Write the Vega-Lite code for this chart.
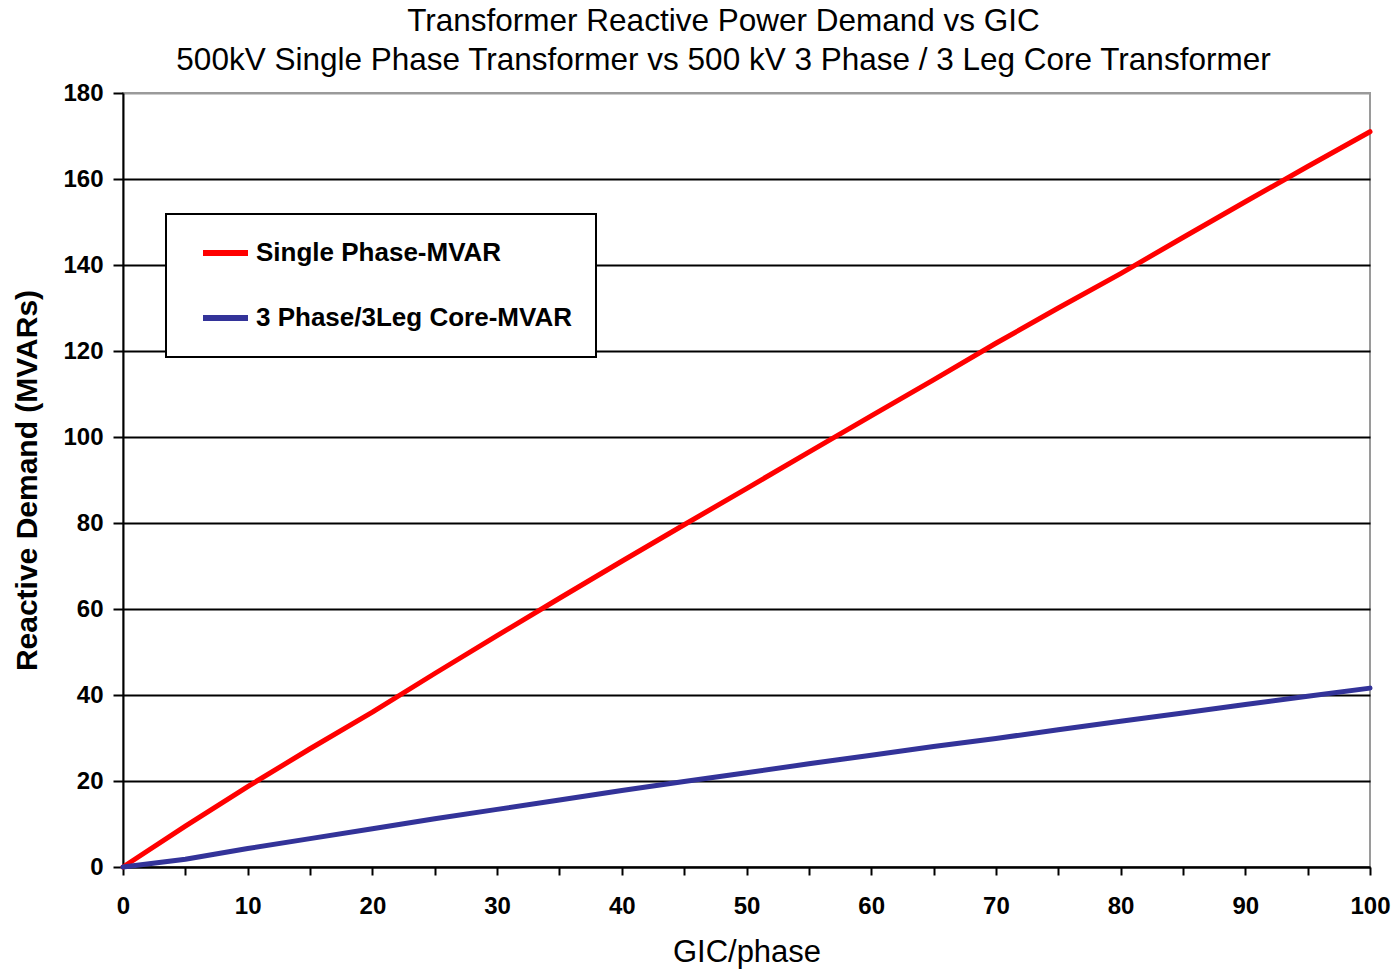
{
  "$schema": "https://vega.github.io/schema/vega-lite/v6.json",
  "autosize": "none",
  "width": 1247,
  "height": 774,
  "padding": {"left": 123, "top": 93, "right": 27, "bottom": 105},
  "background": "white",
  "title": {
    "text": ["Transformer Reactive Power Demand vs GIC", "500kV Single Phase Transformer vs 500 kV 3 Phase / 3 Leg Core Transformer"],
    "font": "Liberation Sans",
    "fontSize": 31.5,
    "fontWeight": "normal",
    "color": "#000000",
    "lineHeight": 39,
    "anchor": "middle",
    "dx": -23,
    "offset": 5
  },
  "config": {
    "font": "Liberation Sans",
    "view": {"stroke": "#9a9a9a", "strokeWidth": 2},
    "legend": {"strokeWidth": 2},
    "axis": {
      "domainColor": "#000000",
      "domainWidth": 2,
      "tickColor": "#000000",
      "tickWidth": 2,
      "labelFont": "Liberation Sans",
      "labelFontWeight": "bold",
      "labelFontSize": 24,
      "labelColor": "#000000",
      "titleFont": "Liberation Sans",
      "titleColor": "#000000"
    }
  },
  "data": {
    "values": [
      {"gic": 0, "mvar": 0, "series": "Single Phase-MVAR"},
      {"gic": 5, "mvar": 9.5, "series": "Single Phase-MVAR"},
      {"gic": 10, "mvar": 18.7, "series": "Single Phase-MVAR"},
      {"gic": 15, "mvar": 27.5, "series": "Single Phase-MVAR"},
      {"gic": 20, "mvar": 36.0, "series": "Single Phase-MVAR"},
      {"gic": 25, "mvar": 45.0, "series": "Single Phase-MVAR"},
      {"gic": 30, "mvar": 53.8, "series": "Single Phase-MVAR"},
      {"gic": 35, "mvar": 62.5, "series": "Single Phase-MVAR"},
      {"gic": 40, "mvar": 71.1, "series": "Single Phase-MVAR"},
      {"gic": 45, "mvar": 79.6, "series": "Single Phase-MVAR"},
      {"gic": 50, "mvar": 88.0, "series": "Single Phase-MVAR"},
      {"gic": 55, "mvar": 96.5, "series": "Single Phase-MVAR"},
      {"gic": 60, "mvar": 104.9, "series": "Single Phase-MVAR"},
      {"gic": 65, "mvar": 113.3, "series": "Single Phase-MVAR"},
      {"gic": 70, "mvar": 121.8, "series": "Single Phase-MVAR"},
      {"gic": 75, "mvar": 130.0, "series": "Single Phase-MVAR"},
      {"gic": 80, "mvar": 138.0, "series": "Single Phase-MVAR"},
      {"gic": 85, "mvar": 146.4, "series": "Single Phase-MVAR"},
      {"gic": 90, "mvar": 154.7, "series": "Single Phase-MVAR"},
      {"gic": 95, "mvar": 162.9, "series": "Single Phase-MVAR"},
      {"gic": 100, "mvar": 171.0, "series": "Single Phase-MVAR"},
      {"gic": 0, "mvar": 0, "series": "3 Phase/3Leg Core-MVAR"},
      {"gic": 5, "mvar": 1.8, "series": "3 Phase/3Leg Core-MVAR"},
      {"gic": 10, "mvar": 4.3, "series": "3 Phase/3Leg Core-MVAR"},
      {"gic": 15, "mvar": 6.6, "series": "3 Phase/3Leg Core-MVAR"},
      {"gic": 20, "mvar": 8.9, "series": "3 Phase/3Leg Core-MVAR"},
      {"gic": 25, "mvar": 11.2, "series": "3 Phase/3Leg Core-MVAR"},
      {"gic": 30, "mvar": 13.4, "series": "3 Phase/3Leg Core-MVAR"},
      {"gic": 35, "mvar": 15.6, "series": "3 Phase/3Leg Core-MVAR"},
      {"gic": 40, "mvar": 17.8, "series": "3 Phase/3Leg Core-MVAR"},
      {"gic": 45, "mvar": 19.9, "series": "3 Phase/3Leg Core-MVAR"},
      {"gic": 50, "mvar": 21.9, "series": "3 Phase/3Leg Core-MVAR"},
      {"gic": 55, "mvar": 24.0, "series": "3 Phase/3Leg Core-MVAR"},
      {"gic": 60, "mvar": 26.0, "series": "3 Phase/3Leg Core-MVAR"},
      {"gic": 65, "mvar": 28.0, "series": "3 Phase/3Leg Core-MVAR"},
      {"gic": 70, "mvar": 29.9, "series": "3 Phase/3Leg Core-MVAR"},
      {"gic": 75, "mvar": 31.9, "series": "3 Phase/3Leg Core-MVAR"},
      {"gic": 80, "mvar": 33.9, "series": "3 Phase/3Leg Core-MVAR"},
      {"gic": 85, "mvar": 35.8, "series": "3 Phase/3Leg Core-MVAR"},
      {"gic": 90, "mvar": 37.8, "series": "3 Phase/3Leg Core-MVAR"},
      {"gic": 95, "mvar": 39.7, "series": "3 Phase/3Leg Core-MVAR"},
      {"gic": 100, "mvar": 41.6, "series": "3 Phase/3Leg Core-MVAR"}
    ]
  },
  "mark": {"type": "line", "strokeWidth": 5, "strokeCap": "round", "strokeJoin": "round"},
  "encoding": {
    "x": {
      "field": "gic",
      "type": "quantitative",
      "scale": {"domain": [0, 100], "nice": false},
      "axis": {
        "title": "GIC/phase",
        "titleFontSize": 31,
        "titleFontWeight": "normal",
        "titlePadding": 19,
        "values": [0, 5, 10, 15, 20, 25, 30, 35, 40, 45, 50, 55, 60, 65, 70, 75, 80, 85, 90, 95, 100],
        "labelExpr": "datum.value % 10 === 0 ? datum.label : ''",
        "tickSize": 8,
        "labelPadding": 19,
        "labelFlush": false,
        "labelOverlap": false,
        "grid": false
      }
    },
    "y": {
      "field": "mvar",
      "type": "quantitative",
      "scale": {"domain": [0, 180], "nice": false},
      "axis": {
        "title": "Reactive Demand (MVARs)",
        "titleFontSize": 30,
        "titleFontWeight": "bold",
        "titlePadding": 20,
        "values": [0, 20, 40, 60, 80, 100, 120, 140, 160, 180],
        "tickSize": 10,
        "labelPadding": 10,
        "grid": true,
        "gridColor": {"condition": {"test": "datum.value === 180", "value": "#9a9a9a"}, "value": "#000000"},
        "gridWidth": 2,
        "gridOpacity": 1
      }
    },
    "color": {
      "field": "series",
      "type": "nominal",
      "scale": {
        "domain": ["Single Phase-MVAR", "3 Phase/3Leg Core-MVAR"],
        "range": ["#ff0000", "#333399"]
      },
      "legend": {
        "title": null,
        "orient": "none",
        "legendX": 43,
        "legendY": 121,
        "direction": "vertical",
        "padding": 24,
        "strokeColor": "#000000",
        "fillColor": "#ffffff",
        "symbolType": "stroke",
        "symbolSize": 2025,
        "symbolStrokeWidth": 6,
        "symbolOffset": 10,
        "clipHeight": 30,
        "labelFont": "Liberation Sans",
        "labelFontWeight": "bold",
        "labelFontSize": 26,
        "labelColor": "#000000",
        "labelOffset": 5,
        "labelLimit": 500,
        "rowPadding": 35
      }
    }
  }
}
